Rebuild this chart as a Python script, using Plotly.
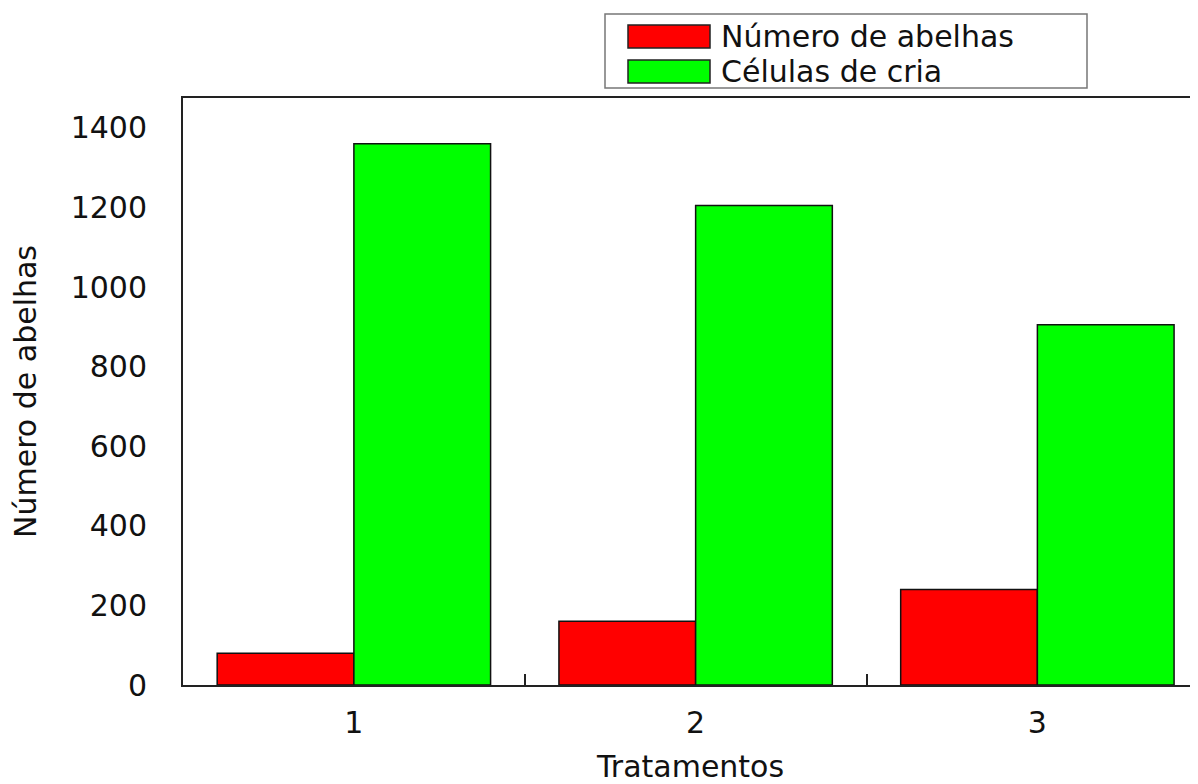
import plotly.graph_objects as go

# ---- data ----
tratamentos = [1, 2, 3]
tick_labels = ["1", "2", "3"]
numero_abelhas = [80, 160, 240]
celulas_cria = [1360, 1205, 905]
series_names = ["Número de abelhas", "Células de cria"]
series_colors = ["#FF0000", "#00FF00"]
y_ticks = [0, 200, 400, 600, 800, 1000, 1200, 1400]

# ---- layout geometry (pixels); page body has an 8px margin ----
OFF = 8
W, H = 1190, 776
ML, MR, MT, MB = 175, 0, 90, 99
PW, PH = W - ML - MR, H - MT - MB
FONT = "DejaVu Sans, Arial, sans-serif"
FS = 30


def px_x(p):  # screen px -> paper x
    return (p - OFF - ML) / PW


def px_y(p):  # screen px -> paper y
    return (H - MB - (p - OFF)) / PH


fig = go.Figure()
for name, vals, col in zip(series_names, [numero_abelhas, celulas_cria], series_colors):
    fig.add_trace(go.Bar(
        x=tratamentos, y=vals, name=name,
        marker=dict(color=col, line=dict(color="#111111", width=1.5)),
        showlegend=False,
    ))

# custom legend (large swatches like the original)
shapes = [dict(type="rect", xref="paper", yref="paper",
               x0=px_x(605), x1=px_x(1087), y0=px_y(88), y1=px_y(14),
               line=dict(color="#777777", width=1.5), fillcolor="white", layer="above")]
annotations = []
rows = [(25, 48), (60, 83)]
for (y0, y1), name, col in zip(rows, series_names, series_colors):
    shapes.append(dict(type="rect", xref="paper", yref="paper",
                       x0=px_x(628), x1=px_x(710), y0=px_y(y1), y1=px_y(y0),
                       line=dict(color="#222222", width=1.5), fillcolor=col, layer="above"))
    annotations.append(dict(xref="paper", yref="paper", x=px_x(719), y=px_y((y0 + y1) / 2),
                            text=name, showarrow=False, xanchor="left", yanchor="middle",
                            font=dict(family=FONT, size=FS, color="#111111")))

fig.update_layout(
    width=W, height=H,
    margin=dict(l=ML, r=MR, t=MT, b=MB, autoexpand=False),
    paper_bgcolor="white", plot_bgcolor="white",
    barmode="group", bargap=0.2, bargroupgap=0,
    font=dict(family=FONT, size=FS, color="#111111"),
    shapes=shapes, annotations=annotations,
    showlegend=False,
)
fig.update_xaxes(
    range=[0.5, 3.47], tickvals=tratamentos, ticktext=tick_labels,
    ticks="", ticklabelstandoff=10, showgrid=False, zeroline=False,
    showline=True, linecolor="#222222", linewidth=2, mirror=True,
    minor=dict(tickvals=[1.5, 2.5], ticks="inside", ticklen=11, tickwidth=1.5, tickcolor="#222222"),
    title=dict(text="Tratamentos", standoff=22, font=dict(family=FONT, size=FS)),
    tickfont=dict(family=FONT, size=FS),
)
fig.update_yaxes(
    range=[0, 1475], tickvals=y_ticks, ticks="", ticklabelstandoff=28,
    showgrid=False, zeroline=False,
    showline=True, linecolor="#222222", linewidth=2, mirror=False,
    title=dict(text="Número de abelhas", standoff=26, font=dict(family=FONT, size=FS)),
    tickfont=dict(family=FONT, size=FS),
)

fig.write_html("out.html")
